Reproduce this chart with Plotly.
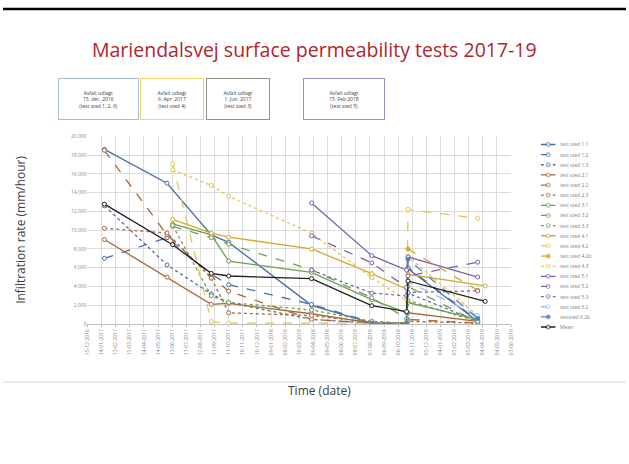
import plotly.graph_objects as go

W, H = 629, 464

dates = ["2017-01-20", "2017-06-02", "2017-06-14", "2017-09-04", "2017-10-11",
         "2018-04-05", "2018-08-11", "2018-10-24", "2018-10-27", "2019-03-24", "2019-04-09"]

N = None
names = ["test sted 1.1", "test sted 1.2", "test sted 1.3",
         "test sted 2.1", "test sted 2.2", "test sted 2.3",
         "test sted 3.1", "test sted 3.2", "test sted 3.3",
         "test sted 4.1", "test sted 4.2", "test sted 4.2b", "test sted 4.3",
         "test sted 5.1", "test sted 5.2", "test sted 5.3",
         "test sted 6.2", "teststed 6.2b", "Mean"]

s11 = [18600, 15000, N, 9500, 8700, 2000, 100, 100, 5900, 300, N]
s12 = [7000, 9200, N, 5300, 4200, 2100, 200, 100, 6000, 400, N]
s13 = [12600, 6300, N, 3200, 2300, 500, 100, 100, 3300, 300, N]
s21 = [9000, 5000, N, 2100, 2200, 1100, 100, 100, 1200, 300, N]
s22 = [18500, 9500, N, 5100, 3500, 500, 100, 100, 500, 100, N]
s23 = [10200, 9700, N, 4900, 1200, 900, 200, 100, 300, 100, N]
s31 = [N, N, 10660, 9500, 6700, 5500, 2600, 1200, 2300, 500, N]
s32 = [N, N, 10400, 9200, 8500, 5800, 2800, 600, 4000, 200, N]
s33 = [N, N, 10500, 3000, 2300, 1500, 300, 100, 2500, 300, N]
s41 = [N, N, 11150, 9680, 9260, 8000, 5370, 3720, 5300, N, 4060]
s42 = [N, N, 17050, 270, 100, 100, 100, 100, 12210, 11260, N]
s42b = [N, N, N, N, N, N, N, 300, 8000, 3600, N]
s43 = [N, N, 16420, 14770, 13610, 9680, 4950, 2500, 7200, 900, N]
s51 = [N, N, N, N, N, 12900, 7290, 5750, 7160, 5010, N]
s52 = [N, N, N, N, N, 9400, 6520, 3900, 5120, 6590, N]
s53 = [N, N, N, N, N, 5750, 3300, 3010, 3370, 3540, N]
s62 = [N, N, N, N, N, N, N, 200, 4500, 900, N]
s62b = [N, N, N, N, N, N, 100, 100, 6900, 600, N]
mean = [12770, N, 8450, 5400, 5120, 4840, 1960, 1330, 4590, N, 2420]

series = [s11, s12, s13, s21, s22, s23, s31, s32, s33, s41, s42, s42b, s43,
          s51, s52, s53, s62, s62b, mean]

yticks = [0, 2000, 4000, 6000, 8000, 10000, 12000, 14000, 16000, 18000, 20000]

BLUE, BROWN, GREEN = "#4a6fa5", "#a8683a", "#6f9e4f"
GOLD, YEL, PURP = "#d6a92c", "#e8c44e", "#7e5fae"
LBLUE, MBLUE, BLACK = "#9dc3e6", "#4f81bd", "#1f1f1f"
styles = [
    (BLUE, "solid", False), (BLUE, "dash", False), (BLUE, "dot", False),
    (BROWN, "solid", False), (BROWN, "dash", False), (BROWN, "dot", False),
    (GREEN, "solid", False), (GREEN, "dash", False), (GREEN, "dot", False),
    (GOLD, "solid", False), (YEL, "dash", False), (GOLD, "dash", True), (YEL, "dot", False),
    (PURP, "solid", False), (PURP, "dash", False), (PURP, "dot", False),
    (LBLUE, "dash", False), (MBLUE, "dash", True), (BLACK, "solid", False),
]

fig = go.Figure()

for name, vals, (col, dash, filled) in zip(names, series, styles):
    fig.add_trace(go.Scatter(
        x=dates, y=vals, name=name, mode="lines+markers", connectgaps=True,
        line=dict(color=col, width=1.3, dash=dash),
        marker=dict(symbol="circle", size=4, color=col if filled else "white",
                    line=dict(color=col, width=1)),
        showlegend=False, xaxis="x", yaxis="y"))

# custom compact legend drawn on an auxiliary axis
for i, (name, (col, dash, filled)) in enumerate(zip(names, styles)):
    fig.add_trace(go.Scatter(
        x=[0, 0.5, 1], y=[i, i, i], mode="lines+markers",
        line=dict(color=col, width=1.3, dash=dash),
        marker=dict(symbol="circle", size=[0, 4, 0], color=col if filled else "white",
                    line=dict(color=col, width=1)),
        showlegend=False, hoverinfo="skip", xaxis="x2", yaxis="y2"))
    fig.add_annotation(x=1, y=i, xref="x2", yref="y2", text=name, showarrow=False,
                       xanchor="left", yanchor="middle", xshift=2,
                       font=dict(size=5, color="#7f7f7f", family="Open Sans"))

def px(x):
    return x / W

def py(y):
    return 1 - y / H

fig.update_layout(
    width=W, height=H, autosize=False,
    margin=dict(l=0, r=0, t=0, b=0),
    paper_bgcolor="white", plot_bgcolor="white",
    separators=",.",
    font=dict(family="Open Sans", color="#404040"),
    xaxis=dict(domain=[px(85.3), px(513)], type="date",
               range=["2016-12-15", "2019-06-03"],
               tick0="2016-12-15", dtick=30 * 86400000, tickformat="%d-%m-%Y",
               tickangle=-90, tickfont=dict(size=5, color="#8a8a8a"),
               showgrid=True, gridcolor="#dcdcdc", gridwidth=1,
               showline=True, linecolor="#bfbfbf", zeroline=False,
               ticks="outside", ticklen=2, tickcolor="#bfbfbf",
               title=dict(text="")),
    yaxis=dict(domain=[py(325.3), py(135)], range=[0, 20000],
               tickvals=yticks, tickformat=",d",
               tickfont=dict(size=5, color="#8a8a8a"),
               showgrid=True, gridcolor="#dcdcdc", gridwidth=1,
               zeroline=False, showline=False, ticks="", title=dict(text="")),
    xaxis2=dict(domain=[px(543), px(558)], range=[0, 1], visible=False, anchor="y2",
                fixedrange=True),
    yaxis2=dict(domain=[py(333.4), py(138.2)], range=[18.5, -0.5], visible=False,
                anchor="x2", fixedrange=True),
)

# title
fig.add_annotation(x=0.5, y=py(47), xref="paper", yref="paper",
                   text="Mariendalsvej surface permeability tests 2017-19",
                   showarrow=False, xanchor="center", yanchor="middle",
                   font=dict(size=19.5, color="#b0262c", family="Open Sans"))
# axis titles
fig.add_annotation(x=px(17), y=py(230), xref="paper", yref="paper",
                   text="Infiltration rate (mm/hour)", textangle=-90,
                   showarrow=False, xanchor="center", yanchor="middle",
                   font=dict(size=12, color="#404040", family="Open Sans"))
fig.add_annotation(x=px(320), y=py(393), xref="paper", yref="paper",
                   text="Time (date)", showarrow=False,
                   xanchor="center", yanchor="middle",
                   font=dict(size=12, color="#404040", family="Open Sans"))

# asphalt boxes
boxes = [
    (96.2, 77, "Asfalt udlagt<br>15. dec. 2016<br>(test sted 1, 2, 6)", "#a7bbdb"),
    (170.5, 60, "Asfalt udlagt<br>6. Apr. 2017<br>(test sted 4)", "#f2d865"),
    (237.5, 60, "Asfalt udlagt<br>1. Jun. 2017<br>(test sted 3)", "#8c9682"),
    (344.2, 78, "Asfalt udlagt<br>15. Feb 2018<br>(test sted 5)", "#a08cc4"),
]
for cx, bw, txt, bc in boxes:
    fig.add_annotation(x=px(cx), y=py(97.5), xref="paper", yref="paper",
                       text=txt, showarrow=False, xanchor="center", yanchor="middle",
                       width=bw, height=38, align="center", valign="middle",
                       bordercolor=bc, borderwidth=1, borderpad=1, bgcolor="white",
                       font=dict(size=5, color="#404040", family="Open Sans"))

# slide lines
fig.add_shape(type="line", xref="paper", yref="paper", x0=0, x1=1, y0=py(6), y1=py(6),
              line=dict(color="black", width=2.5))
fig.add_shape(type="line", xref="paper", yref="paper", x0=0, x1=1, y0=py(384), y1=py(384),
              line=dict(color="#d9d9d9", width=1))

fig.write_html("out.html", config={"displayModeBar": False},
               post_script="document.body.style.margin='0';document.body.style.overflow='hidden';")
